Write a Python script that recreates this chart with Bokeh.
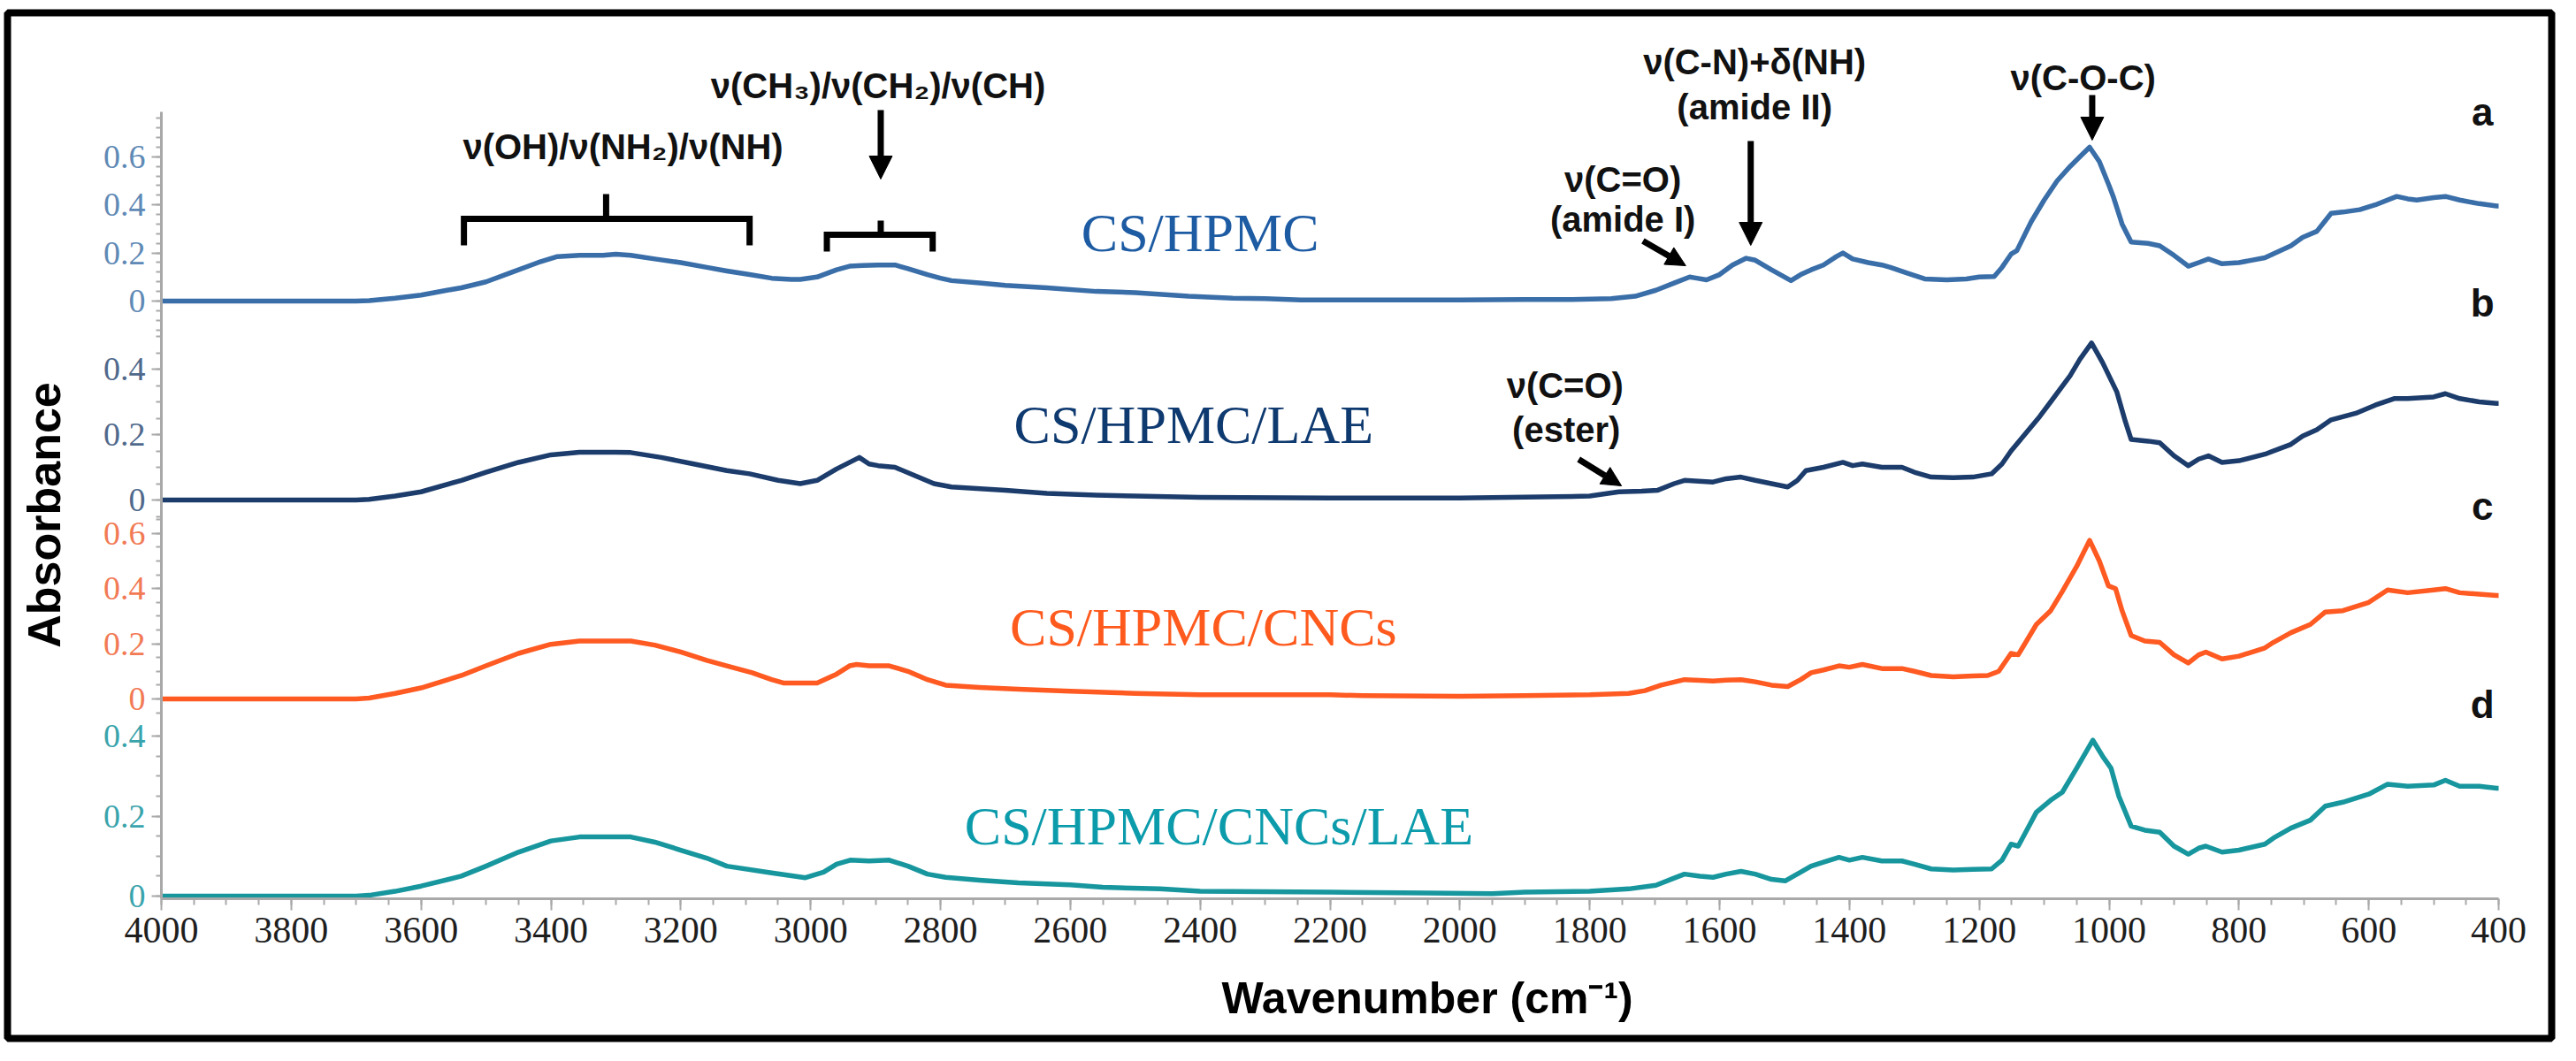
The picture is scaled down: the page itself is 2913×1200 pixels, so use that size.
import numpy as np
from math import pi
from bokeh.plotting import figure
from bokeh.models import (Range1d, FixedTicker, SingleIntervalTicker, LinearAxis,
                          Label, Arrow, NormalHead)
from bokeh.embed import file_html
from bokeh.resources import INLINE

# ---------------- data ----------------
wn_a = [4000, 3900, 3800, 3700, 3680, 3640, 3600, 3560, 3538, 3500, 3460, 3420, 3390, 3356, 3320, 3300,
        3277, 3240, 3200, 3160, 3129, 3094, 3060, 3030, 3016, 2990, 2960, 2940, 2920, 2896, 2870, 2850,
        2820, 2800, 2783, 2740, 2700, 2636, 2560, 2500, 2418, 2350, 2300, 2245, 2100, 2000, 1900, 1830,
        1767, 1730, 1698, 1670, 1646, 1635, 1620, 1600, 1580, 1559, 1545, 1520, 1490, 1475, 1459, 1440,
        1420, 1410, 1395, 1371, 1350, 1337, 1310, 1284, 1250, 1220, 1200, 1177, 1165, 1151, 1142, 1120,
        1100, 1080, 1060, 1045, 1030, 1015, 1000, 993, 980, 966, 940, 922, 900, 878, 862, 847, 826, 800,
        760, 720, 702, 680, 658, 640, 614, 590, 557, 540, 526, 500, 482, 460, 430, 403, 400]
abs_a = [0, 0, 0, 0, 0.002, 0.012, 0.025, 0.045, 0.055, 0.08, 0.12, 0.16, 0.185, 0.19, 0.19, 0.195,
         0.19, 0.175, 0.16, 0.14, 0.125, 0.11, 0.095, 0.09, 0.09, 0.1, 0.13, 0.145, 0.148, 0.15, 0.15, 0.135,
         0.11, 0.095, 0.085, 0.075, 0.065, 0.055, 0.04, 0.035, 0.02, 0.012, 0.01, 0.005, 0.005, 0.005, 0.006, 0.006,
         0.01, 0.02, 0.045, 0.075, 0.1, 0.095, 0.088, 0.11, 0.15, 0.178, 0.17, 0.13, 0.085, 0.11, 0.13, 0.15,
         0.185, 0.2, 0.175, 0.16, 0.15, 0.14, 0.115, 0.092, 0.088, 0.092, 0.1, 0.102, 0.14, 0.195, 0.21, 0.33,
         0.42, 0.5, 0.56, 0.6, 0.64, 0.58, 0.48, 0.43, 0.32, 0.245, 0.24, 0.23, 0.19, 0.145, 0.16, 0.175, 0.155, 0.16,
         0.18, 0.23, 0.265, 0.29, 0.365, 0.37, 0.38, 0.4, 0.435, 0.425, 0.42, 0.43, 0.435, 0.42, 0.405, 0.395, 0.395]

wn_b = [4000, 3700, 3680, 3640, 3600, 3538, 3500, 3450, 3400, 3356, 3300, 3277, 3230, 3180, 3129, 3094,
        3050, 3016, 2990, 2960, 2925, 2910, 2896, 2870, 2840, 2810, 2783, 2700, 2636, 2560, 2500, 2400,
        2200, 2000, 1850, 1800, 1755, 1720, 1695, 1670, 1654, 1610, 1590, 1567, 1545, 1520, 1495, 1480,
        1467, 1440, 1410, 1395, 1380, 1350, 1319, 1300, 1274, 1240, 1210, 1181, 1165, 1151, 1130, 1107,
        1090, 1060, 1045, 1027, 1010, 988, 975, 966, 940, 922, 900, 878, 862, 847, 826, 800, 760, 720,
        702, 680, 658, 620, 590, 561, 540, 500, 482, 460, 430, 403, 400]
abs_b = [0, 0, 0.002, 0.012, 0.025, 0.06, 0.085, 0.115, 0.138, 0.146, 0.146, 0.145, 0.13, 0.11, 0.09, 0.08,
         0.06, 0.05, 0.06, 0.095, 0.13, 0.11, 0.105, 0.1, 0.075, 0.05, 0.04, 0.03, 0.02, 0.015, 0.012, 0.008,
         0.006, 0.006, 0.01, 0.012, 0.025, 0.027, 0.03, 0.05, 0.06, 0.055, 0.065, 0.07, 0.06, 0.05, 0.04, 0.06,
         0.09, 0.1, 0.115, 0.105, 0.11, 0.1, 0.1, 0.085, 0.07, 0.068, 0.07, 0.08, 0.11, 0.15, 0.2, 0.255,
         0.3, 0.38, 0.43, 0.48, 0.42, 0.33, 0.24, 0.185, 0.18, 0.175, 0.135, 0.105, 0.125, 0.135, 0.115, 0.12, 0.14, 0.17,
         0.195, 0.215, 0.245, 0.265, 0.29, 0.31, 0.31, 0.315, 0.325, 0.31, 0.3, 0.295, 0.295]

wn_c = [4000, 3700, 3680, 3640, 3600, 3538, 3500, 3450, 3400, 3356, 3277, 3240, 3200, 3160, 3129, 3090,
        3060, 3042, 2990, 2960, 2940, 2929, 2910, 2879, 2850, 2820, 2792, 2740, 2680, 2600, 2500, 2400,
        2200, 2150, 2000, 1900, 1800, 1740, 1715, 1690, 1654, 1630, 1610, 1590, 1567, 1545, 1520, 1495,
        1475, 1459, 1440, 1416, 1400, 1380, 1350, 1319, 1300, 1274, 1240, 1210, 1187, 1170, 1151, 1140,
        1112, 1090, 1072, 1050, 1030, 1015, 1001, 990, 980, 966, 945, 922, 900, 878, 862, 851, 826, 800,
        760, 747, 720, 690, 667, 640, 600, 571, 540, 500, 482, 460, 430, 403, 400]
abs_c = [0, 0, 0.003, 0.02, 0.04, 0.085, 0.12, 0.165, 0.198, 0.21, 0.21, 0.195, 0.17, 0.14, 0.12, 0.095,
         0.07, 0.058, 0.058, 0.09, 0.12, 0.125, 0.12, 0.12, 0.1, 0.07, 0.05, 0.042, 0.035, 0.028, 0.02, 0.015,
         0.015, 0.012, 0.01, 0.012, 0.015, 0.02, 0.03, 0.05, 0.07, 0.067, 0.065, 0.068, 0.07, 0.062, 0.05, 0.045,
         0.07, 0.095, 0.105, 0.12, 0.115, 0.125, 0.11, 0.11, 0.1, 0.085, 0.08, 0.083, 0.085, 0.1, 0.165, 0.16,
         0.27, 0.32, 0.39, 0.48, 0.575, 0.5, 0.41, 0.4, 0.32, 0.23, 0.21, 0.205, 0.16, 0.13, 0.16, 0.17, 0.145, 0.155,
         0.185, 0.205, 0.24, 0.27, 0.315, 0.32, 0.35, 0.395, 0.385, 0.395, 0.4, 0.385, 0.38, 0.375, 0.375]

wn_d = [4000, 3700, 3680, 3640, 3600, 3538, 3500, 3450, 3400, 3356, 3277, 3240, 3200, 3160, 3129, 3060,
        3008, 2980, 2960, 2939, 2910, 2879, 2850, 2820, 2792, 2740, 2680, 2600, 2550, 2462, 2400, 2200,
        2050, 1950, 1900, 1800, 1740, 1698, 1670, 1654, 1630, 1610, 1590, 1567, 1545, 1520, 1499, 1475,
        1459, 1440, 1416, 1400, 1380, 1350, 1319, 1300, 1274, 1240, 1210, 1181, 1165, 1151, 1140, 1112,
        1090, 1072, 1050, 1025, 1010, 997, 985, 966, 945, 922, 900, 878, 862, 851, 826, 800, 760, 747,
        720, 690, 667, 640, 600, 571, 540, 500, 482, 460, 430, 403, 400]
abs_d = [0, 0, 0.002, 0.012, 0.025, 0.05, 0.075, 0.11, 0.138, 0.148, 0.148, 0.135, 0.115, 0.095, 0.075, 0.058,
         0.046, 0.06, 0.08, 0.09, 0.088, 0.09, 0.075, 0.055, 0.047, 0.04, 0.033, 0.028, 0.022, 0.018, 0.012, 0.01,
         0.008, 0.006, 0.01, 0.012, 0.018, 0.027, 0.045, 0.055, 0.05, 0.047, 0.055, 0.062, 0.055, 0.042, 0.038, 0.06,
         0.075, 0.085, 0.097, 0.09, 0.097, 0.088, 0.088, 0.08, 0.068, 0.065, 0.067, 0.068, 0.09, 0.13, 0.125, 0.21,
         0.24, 0.26, 0.32, 0.39, 0.35, 0.32, 0.25, 0.175, 0.165, 0.16, 0.125, 0.105, 0.12, 0.125, 0.11, 0.115, 0.13, 0.145,
         0.17, 0.19, 0.225, 0.235, 0.255, 0.28, 0.275, 0.278, 0.29, 0.275, 0.275, 0.27, 0.27]

series_keys = ["a", "b", "c", "d"]
series_names = ["CS/HPMC", "CS/HPMC/LAE", "CS/HPMC/CNCs", "CS/HPMC/CNCs/LAE"]
y_tick_values = {"a": [0, 0.2, 0.4, 0.6], "b": [0, 0.2, 0.4], "c": [0, 0.2, 0.4, 0.6], "d": [0, 0.2, 0.4]}
y_tick_text = {0: "0", 0.2: "0.2", 0.4: "0.4", 0.6: "0.6"}
x_title = "Wavenumber (cm⁻¹)"
y_title = "Absorbance"

# annotation texts and their anchors (wavenumber, vertical position in px above the x axis)
ann_text = ["ν(OH)/ν(NH₂)/ν(NH)", "ν(CH₃)/ν(CH₂)/ν(CH)", "ν(C-N)+δ(NH)", "(amide II)",
            "ν(C=O)", "(amide I)", "ν(C-O-C)", "ν(C=O)", "(ester)"]
ann_wn = [3289, 2896, 1546, 1546, 1749, 1749, 1040, 1838, 1836]
ann_y = [851, 920, 947, 896, 814, 769, 929, 581, 531]

# arrows: (wn_start, y_start, wn_end, y_end, head size)
arrows = [(2892, 892, 2892, 814, 26), (1552, 857, 1552, 739, 26), (1718, 744, 1652, 716, 22),
          (1026, 909, 1026, 858, 26), (1817, 497, 1751, 467, 22)]
# brackets: (wn_left, wn_right, wn_mid, y_bar, y_ends, y_stem)
brackets = [(3534, 3094, 3315, 769, 739, 797), (2975, 2812, 2892, 751, 732, 767)]

# ---------------- layout / style ----------------
W, H = 2897, 1184
BL, BR, BT, BB = 8, 12, 14, 10          # frame == black border box
X_RANGE = (4237, 318.3)                 # wavenumber at frame left/right edge
Y_RANGE = (-158, 1002)                  # px above the x axis line
BASE = {"a": 676, "b": 451, "c": 226, "d": 3}        # px above x axis of each zero line
SCALE = {"a": 272, "b": 370, "c": 312, "d": 452}     # px per absorbance unit
REGION = {"a": (639, 890), "b": (432, 639), "c": (206, 432), "d": (0, 206)}
MINOR_STEP = {"a": 0.04, "b": 0.05, "c": 0.05, "d": 0.05}
LINE_COL = {"a": "#3a6ea8", "b": "#1c3c6c", "c": "#ff5a22", "d": "#17969e"}
TICK_COL = {"a": "#5f8ab6", "b": "#50698c", "c": "#f27a55", "d": "#3aa4ac"}
NAME_COL = {"a": "#1d5ba3", "b": "#0f3a70", "c": "#ff5a1e", "d": "#0b9bab"}
NAME_POS = {"a": (2400, 754), "b": (2410, 537), "c": (2395, 308), "d": (2371, 83)}
LETTER_POS = {"a": 890, "b": 674, "c": 444, "d": 220}
AXIS_COL = "#a9a9a9"

wn = {"a": wn_a, "b": wn_b, "c": wn_c, "d": wn_d}
ab = {"a": abs_a, "b": abs_b, "c": abs_c, "d": abs_d}

p = figure(width=W, height=H, output_backend="svg", toolbar_location=None,
           x_range=Range1d(*X_RANGE), y_range=Range1d(*Y_RANGE),
           min_border_left=BL, min_border_right=BR, min_border_top=BT, min_border_bottom=BB,
           background_fill_color="white", border_fill_color="white")
p.outline_line_color = "black"
p.outline_line_width = 8
p.outline_line_alpha = 1.0
p.grid.visible = False

# spectra
for k in series_keys:
    y = BASE[k] + SCALE[k] * np.array(ab[k], dtype=float)
    p.line(wn[k], y, line_width=5.5, line_color=LINE_COL[k], line_join="round")

# x axis, drawn at y = 0 inside the bordered box
xa = p.xaxis[0]
xa.fixed_location = 0
xa.bounds = (400, 4000)
xa.ticker = SingleIntervalTicker(interval=200, num_minor_ticks=4)
xa.axis_line_color = AXIS_COL
xa.axis_line_width = 3
xa.major_tick_line_color = AXIS_COL
xa.major_tick_line_width = 2
xa.major_tick_out = 13
xa.major_tick_in = 0
xa.minor_tick_line_color = AXIS_COL
xa.minor_tick_line_width = 2
xa.minor_tick_out = 7
xa.minor_tick_in = 0
xa.major_label_text_font = "Liberation Serif"
xa.major_label_text_font_size = "42px"
xa.major_label_text_color = "#1e1e1e"
xa.major_label_standoff = 8


def tick_positions(k):
    return [round(BASE[k] + v * SCALE[k], 3) for v in y_tick_values[k]]


def overrides(k):
    return {round(BASE[k] + v * SCALE[k], 3): y_tick_text[v] for v in y_tick_values[k]}


minor = []
for k in series_keys:
    lo, hi = REGION[k]
    n_lo = int(np.floor((lo - BASE[k]) / (MINOR_STEP[k] * SCALE[k])))
    n_hi = int(np.ceil((hi - BASE[k]) / (MINOR_STEP[k] * SCALE[k])))
    for n in range(n_lo, n_hi + 1):
        yv = BASE[k] + n * MINOR_STEP[k] * SCALE[k]
        if lo <= yv < hi:
            minor.append(round(yv, 3))


def style_y(ax, k, with_line):
    ax.fixed_location = 4000
    ax.major_label_overrides = overrides(k)
    if with_line:
        ax.bounds = (0, 890)
        ax.axis_line_color = AXIS_COL
        ax.axis_line_width = 3
        ax.minor_tick_line_color = AXIS_COL
        ax.minor_tick_line_width = 2
        ax.minor_tick_out = 6
        ax.minor_tick_in = 0
    else:
        ax.axis_line_color = None
        ax.minor_tick_line_color = None
    ax.major_tick_line_color = AXIS_COL
    ax.major_tick_line_width = 2
    ax.major_tick_out = 11
    ax.major_tick_in = 0
    ax.major_label_text_font = "Liberation Serif"
    ax.major_label_text_font_size = "38px"
    ax.major_label_text_color = TICK_COL[k]
    ax.major_label_standoff = 7


ya = p.yaxis[0]
ya.ticker = FixedTicker(ticks=tick_positions("a"), minor_ticks=minor)
style_y(ya, "a", True)
for k in ["b", "c", "d"]:
    ax = LinearAxis(ticker=FixedTicker(ticks=tick_positions(k), minor_ticks=[]))
    style_y(ax, k, False)
    p.add_layout(ax, "left")

# axis titles
p.add_layout(Label(x=2050, y=-112, text=x_title, text_font="Liberation Sans",
                   text_font_style="bold", text_font_size="50px", text_color="black",
                   text_align="center", text_baseline="middle"))
p.add_layout(Label(x=4180, y=434, text=y_title, angle=pi / 2, text_font="Liberation Sans",
                   text_font_style="bold", text_font_size="52px", text_color="black",
                   text_align="center", text_baseline="middle"))

# series names and letters
for k, name in zip(series_keys, series_names):
    nx, ny = NAME_POS[k]
    p.add_layout(Label(x=nx, y=ny, text=name, text_font="Liberation Serif", text_font_size="62px",
                       text_color=NAME_COL[k], text_align="center", text_baseline="middle"))
    p.add_layout(Label(x=425, y=LETTER_POS[k], text=k, text_font="Liberation Sans",
                       text_font_style="bold", text_font_size="44px", text_color="#111111",
                       text_align="center", text_baseline="middle"))

# band annotations
for t, x, y in zip(ann_text, ann_wn, ann_y):
    p.add_layout(Label(x=x, y=y, text=t, text_font="Liberation Sans", text_font_style="bold",
                       text_font_size="40px", text_color="#111111",
                       text_align="center", text_baseline="middle"))

for xs, ys, xe, ye, hs in arrows:
    p.add_layout(Arrow(end=NormalHead(size=hs, fill_color="black", line_color="black", line_width=1),
                       x_start=xs, y_start=ys, x_end=xe, y_end=ye,
                       line_width=7, line_color="black"))

bx, by = [], []
for xl, xr, xm, yb, ye, ys in brackets:
    bx.append([xl, xl, xr, xr]); by.append([ye, yb, yb, ye])
    bx.append([xm, xm]); by.append([yb, ys])
p.multi_line(bx, by, line_width=7, line_color="black", line_join="miter", line_cap="butt")

open("out.html", "w").write(file_html(p, INLINE))
